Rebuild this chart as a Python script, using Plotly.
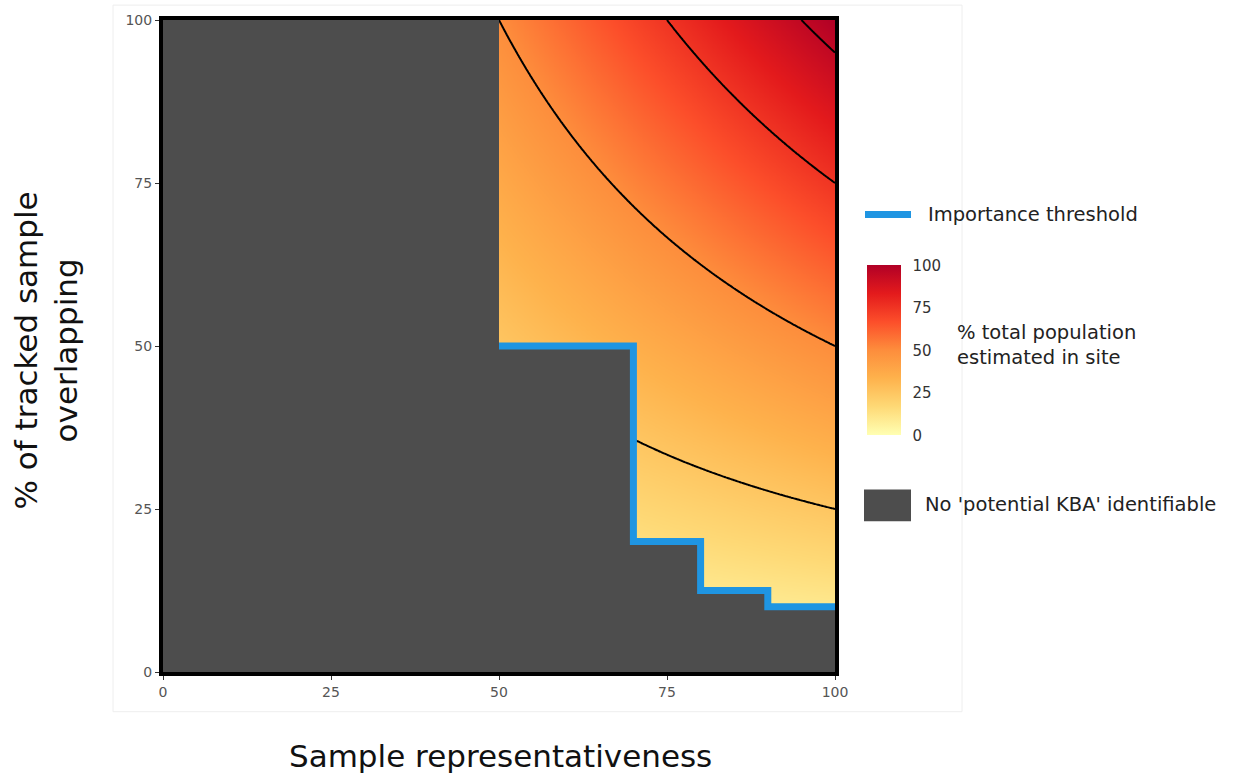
import numpy as np
import plotly.graph_objects as go

# Axis grids (percent)
representativeness = np.linspace(0, 100, 401)
overlap = np.linspace(0, 100, 401)

# Importance threshold: minimum overlap required from each representativeness band
threshold_x = [50, 70, 80, 90]
threshold_y = [50, 20, 12.5, 10]

# Iso-lines of % total population estimated in site
contour_levels = [25, 50, 75, 95]

tick_vals = [0, 25, 50, 75, 100]
tick_text = ["0", "25", "50", "75", "100"]

colors_ylorrd = ["#FFFFB2", "#FED976", "#FEB24C", "#FD8D3C", "#FC4E2A", "#E31A1C", "#B10026"]
colorscale = [[i / (len(colors_ylorrd) - 1), c] for i, c in enumerate(colors_ylorrd)]

X, Y = np.meshgrid(representativeness, overlap)
Z = X * Y / 100.0

GREY = "#4D4D4D"
BLUE = "#1F95E2"
FONT = "DejaVu Sans"


def px_x(p):
    return (p - 163) / 672


def px_y(p):
    return (672 - p) / 657


fig = go.Figure()

fig.add_trace(go.Heatmap(
    x=representativeness, y=overlap, z=Z,
    zmin=0, zmax=100, colorscale=colorscale, zsmooth="best",
    hoverinfo="skip",
    colorbar=dict(
        x=px_x(867), xanchor="left", xpad=0,
        y=px_y(348), yanchor="middle", ypad=0,
        thickness=34, thicknessmode="pixels",
        len=170, lenmode="pixels",
        outlinewidth=0,
        tickvals=tick_vals, ticktext=tick_text,
        ticks="outside", ticklen=9, tickcolor="rgba(0,0,0,0)", tickwidth=1,
        tickfont=dict(family=FONT, size=15, color="#333333"),
    ),
))

for level in contour_levels:
    fig.add_trace(go.Contour(
        x=representativeness, y=overlap, z=Z,
        autocontour=False,
        contours=dict(start=level, end=level, size=1, coloring="none"),
        line=dict(color="black", width=2),
        showscale=False, hoverinfo="skip",
    ))

# Region where no potential KBA can be identified
poly_x = [0, 0, threshold_x[0], threshold_x[0]]
poly_y = [0, 100, 100, threshold_y[0]]
for i in range(1, len(threshold_x)):
    poly_x += [threshold_x[i], threshold_x[i]]
    poly_y += [threshold_y[i - 1], threshold_y[i]]
poly_x += [100, 100]
poly_y += [threshold_y[-1], 0]

fig.add_trace(go.Scatter(
    x=poly_x, y=poly_y, fill="toself", fillcolor=GREY, mode="lines",
    line=dict(width=0, color=GREY), showlegend=False, hoverinfo="skip",
))

fig.add_trace(go.Scatter(
    x=threshold_x + [100], y=threshold_y + [threshold_y[-1]],
    mode="lines", line=dict(color=BLUE, width=7, shape="hv"),
    showlegend=False, hoverinfo="skip",
))

axis_common = dict(
    range=[0, 100], tickvals=tick_vals, ticktext=tick_text,
    showgrid=False, zeroline=False,
    showline=True, linecolor="black", linewidth=4, mirror=True,
    ticks="outside", ticklen=4, tickcolor="#333333", tickwidth=1,
    tickfont=dict(family=FONT, size=14, color="#555555"),
)

shapes = [
    # faint outer panel
    dict(type="rect", xref="paper", yref="paper",
         x0=px_x(113), x1=px_x(962), y0=px_y(712), y1=px_y(0),
         line=dict(color="#EEEEEE", width=1), fillcolor="rgba(0,0,0,0)", layer="below"),
    # legend key: threshold line
    dict(type="line", xref="paper", yref="paper",
         x0=px_x(865), x1=px_x(911), y0=px_y(211), y1=px_y(211),
         line=dict(color=BLUE, width=7)),
    # legend key: grey box
    dict(type="rect", xref="paper", yref="paper",
         x0=px_x(864), x1=px_x(911), y0=px_y(520), y1=px_y(488),
         line=dict(width=0), fillcolor=GREY),
]

legend_font = dict(family=FONT, size=19.5, color="#222222")
title_font = dict(family=FONT, size=31, color="#111111")

annotations = [
    dict(text="Importance threshold", xref="paper", yref="paper",
         x=px_x(926), y=px_y(211), xanchor="left", yanchor="middle",
         showarrow=False, font=legend_font),
    dict(text="% total population<br>estimated in site", xref="paper", yref="paper",
         x=px_x(955), y=px_y(342), xanchor="left", yanchor="middle", align="left",
         showarrow=False, font=legend_font),
    dict(text="No 'potential KBA' identifiable", xref="paper", yref="paper",
         x=px_x(923), y=px_y(503), xanchor="left", yanchor="middle",
         showarrow=False, font=legend_font),
    dict(text="Sample representativeness", xref="paper", yref="paper",
         x=px_x(500), y=px_y(757), xanchor="center", yanchor="middle",
         showarrow=False, font=title_font),
    dict(text="% of tracked sample<br>overlapping", xref="paper", yref="paper",
         x=px_x(46), y=px_y(348), xanchor="center", yanchor="middle",
         textangle=-90, showarrow=False, font=title_font),
]

fig.update_layout(
    width=1237, height=775,
    margin=dict(l=163, r=1237 - 835, t=15, b=775 - 672),
    paper_bgcolor="white", plot_bgcolor=GREY,
    xaxis=axis_common, yaxis=axis_common,
    shapes=shapes, annotations=annotations,
    showlegend=False,
)

fig.write_html("out.html")
